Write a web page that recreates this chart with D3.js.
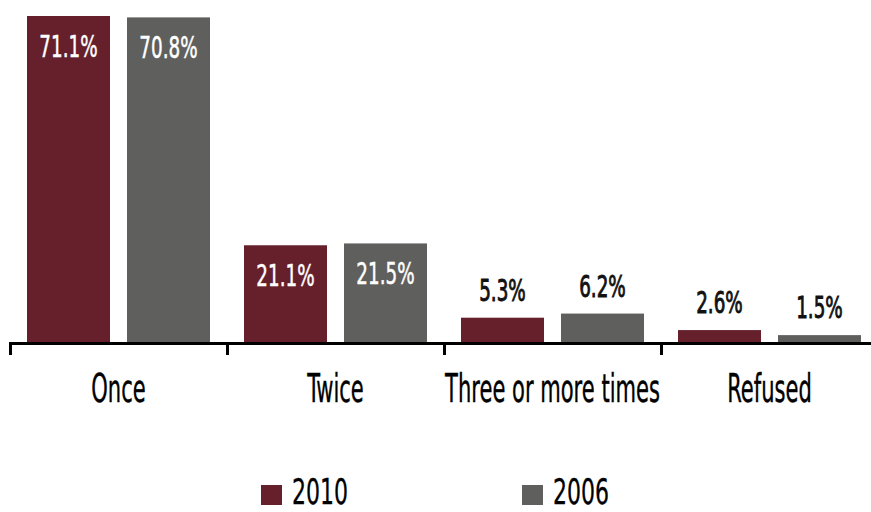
<!DOCTYPE html>
<html>
<head>
<meta charset="utf-8">
<script src="https://cdn.jsdelivr.net/npm/d3@7"></script>
<style>
  html, body { margin: 0; padding: 0; background: #fff; }
  svg { display: block; }
  text { font-family: "DejaVu Sans Condensed", "DejaVu Sans", sans-serif; }
</style>
</head>
<body>
<svg id="chart" width="871" height="512"></svg>
<script>
// Number of times, share of respondents by survey year
const categories = ["Once", "Twice", "Three or more times", "Refused"];
const seriesNames = ["2010", "2006"];
const values2010 = [71.1, 21.1, 5.3, 2.6];
const values2006 = [70.8, 21.5, 6.2, 1.5];
const valueLabels2010 = ["71.1%", "21.1%", "5.3%", "2.6%"];
const valueLabels2006 = ["70.8%", "21.5%", "6.2%", "1.5%"];
const colors = { "2010": "#65202c", "2006": "#5f5f5d" };

const svg = d3.select("#chart");
const baseY = 342;

const x0 = d3.scaleBand().domain(categories).range([10, 878]).padding(0);
const x1 = d3.scaleBand().domain(seriesNames).range([0, x0.bandwidth()])
  .paddingInner(0.17).paddingOuter(0.17);
const y = d3.scaleLinear().domain([0, 75]).range([baseY, baseY - 75 * 4.585]);

const rows = categories.map((c, i) => ({
  category: c,
  bars: [
    { series: "2010", value: values2010[i], label: valueLabels2010[i] },
    { series: "2006", value: values2006[i], label: valueLabels2006[i] }
  ]
}));

const groups = svg.selectAll("g.cat").data(rows).join("g")
  .attr("class", "cat")
  .attr("transform", d => `translate(${x0(d.category)},0)`);

groups.selectAll("rect").data(d => d.bars).join("rect")
  .attr("x", d => x1(d.series))
  .attr("y", d => y(d.value))
  .attr("width", x1.bandwidth())
  .attr("height", d => baseY - y(d.value))
  .attr("fill", d => colors[d.series]);

// Value labels: inside the bar when tall enough, otherwise above it
groups.selectAll("g.val").data(d => d.bars).join("g")
  .attr("class", "val")
  .attr("transform", d => {
    const cx = x1(d.series) + x1.bandwidth() / 2;
    const inside = d.value > 15;
    const ty = inside ? y(d.value) + 41 : y(d.value) - 17;
    return `translate(${cx},${ty}) scale(0.68,1)`;
  })
  .append("text")
  .attr("text-anchor", "middle")
  .attr("font-size", 30)
  .attr("fill", d => d.value > 15 ? "#ffffff" : "#111111")
  .attr("stroke", d => d.value > 15 ? "#ffffff" : "#111111")
  .attr("stroke-width", d => d.value > 15 ? 0.5 : 0.9)
  .text(d => d.label);

// Axis: baseline with tick marks at the category boundaries
const axis = svg.append("g").attr("class", "axis");
axis.append("line")
  .attr("x1", 9).attr("x2", 871)
  .attr("y1", baseY + 1.5).attr("y2", baseY + 1.5)
  .attr("stroke", "#000").attr("stroke-width", 3);
axis.selectAll("line.tick").data(categories).join("line")
  .attr("class", "tick")
  .attr("x1", d => x0(d) + 0.5).attr("x2", d => x0(d) + 0.5)
  .attr("y1", baseY).attr("y2", baseY + 13)
  .attr("stroke", "#000").attr("stroke-width", 3);
axis.selectAll("g.lab").data(categories).join("g")
  .attr("class", "lab")
  .attr("transform", d => `translate(${x0(d) + x0.bandwidth() / 2},402) scale(0.6,1)`)
  .append("text")
  .attr("text-anchor", "middle")
  .attr("font-size", 39)
  .attr("fill", "#000")
  .attr("stroke", "#000")
  .attr("stroke-width", 0.4)
  .text(d => d);

// Legend
const legendX = d3.scalePoint().domain(seriesNames).range([261, 522]);
const legend = svg.selectAll("g.legend").data(seriesNames).join("g")
  .attr("class", "legend")
  .attr("transform", d => `translate(${legendX(d)},0)`);
legend.append("rect")
  .attr("x", 0).attr("y", 485).attr("width", 21).attr("height", 20)
  .attr("fill", d => colors[d]);
legend.append("g")
  .attr("transform", "translate(31,504) scale(0.7,1)")
  .append("text")
  .attr("font-size", 35)
  .attr("fill", "#000")
  .attr("stroke", "#000")
  .attr("stroke-width", 0.3)
  .text(d => d);
</script>
</body>
</html>
